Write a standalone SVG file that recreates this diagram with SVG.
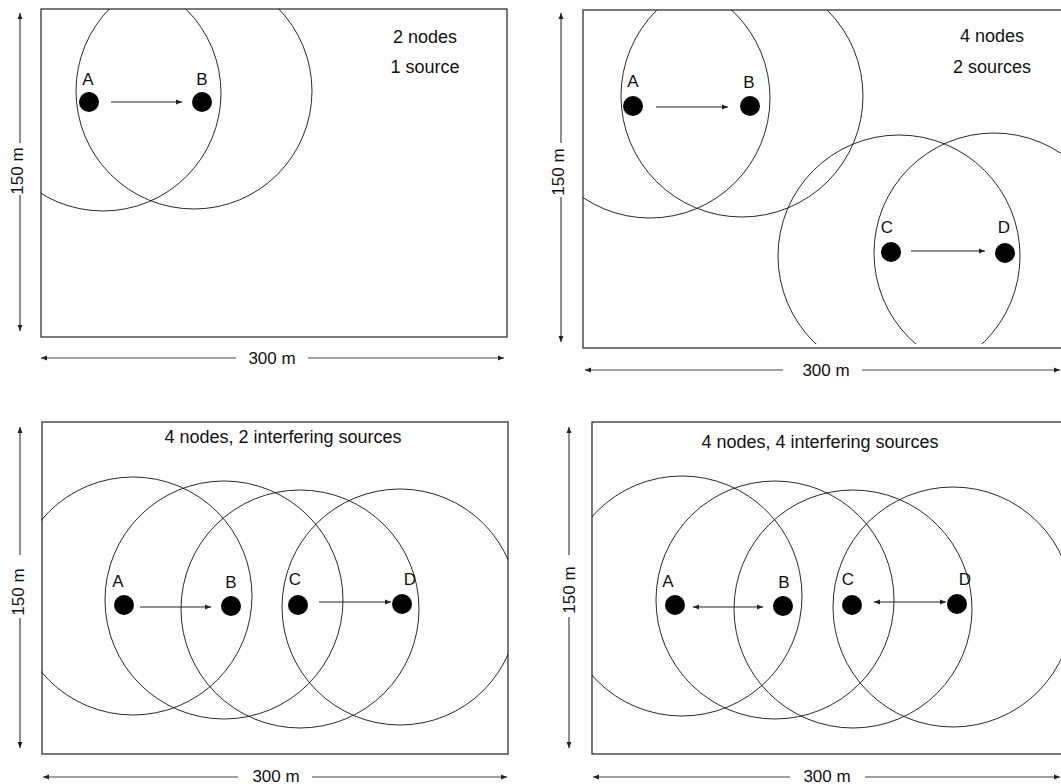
<svg xmlns="http://www.w3.org/2000/svg" width="1061" height="784" viewBox="0 0 1061 784">
<style>
text{font-family:"Liberation Sans",Arial,sans-serif;fill:#111}
.t{font-size:18px}
.lbl{font-size:17px;text-anchor:middle}
.dimt{font-size:17px;text-anchor:middle}
.box{fill:none;stroke:#333;stroke-width:1.3}
.rng{fill:none;stroke:#111;stroke-width:0.9}
.dim{fill:none;stroke:#444;stroke-width:1.2;marker-end:url(#dh)}
.con{fill:none;stroke:#222;stroke-width:1;marker-end:url(#ah)}
.bi{marker-start:url(#ahs)}
.node{fill:#000}
</style>
<defs>
<marker id="dh" markerUnits="userSpaceOnUse" markerWidth="7" markerHeight="6" refX="6" refY="3" orient="auto"><path d="M0,0.5 L6,3 L0,5.5 z" fill="#222"/></marker>
<marker id="ah" markerUnits="userSpaceOnUse" markerWidth="7" markerHeight="6" refX="6" refY="3" orient="auto"><path d="M0,0.5 L6,3 L0,5.5 z" fill="#222"/></marker>
<marker id="ahs" markerUnits="userSpaceOnUse" markerWidth="7" markerHeight="6" refX="0" refY="3" orient="auto"><path d="M6,0.5 L0,3 L6,5.5 z" fill="#222"/></marker>
<clipPath id="c1"><rect x="41" y="9" width="466" height="328"/></clipPath>
<clipPath id="c2"><rect x="583" y="10" width="480" height="334"/></clipPath>
<clipPath id="c3"><rect x="41" y="422" width="467" height="332"/></clipPath>
<clipPath id="c4"><rect x="592" y="422" width="480" height="332"/></clipPath>
</defs>

<!-- Panel 1 -->
<g id="panel1">
<rect class="box" x="41" y="9" width="466" height="328"/>
<g clip-path="url(#c1)">
<circle class="rng" cx="103" cy="93" r="118"/>
<circle class="rng" cx="194" cy="91" r="118"/>
</g>
<text class="t" x="425" y="43" text-anchor="middle">2 nodes</text>
<text class="t" x="425" y="73" text-anchor="middle">1 source</text>
<g id="p1-dims">
<path class="dim" d="M20,143 V13"/><path class="dim" d="M20,195 V331"/>
<text class="dimt" transform="translate(23,171) rotate(-90)">150 m</text>
<path class="dim" d="M236,358 H41"/><path class="dim" d="M308,358 H504"/>
<text class="dimt" x="272" y="364">300 m</text>
</g>
<g id="p1-A"><circle class="node" cx="89" cy="102" r="10"/><text class="lbl" x="88" y="85">A</text></g>
<g id="p1-B"><circle class="node" cx="202" cy="102" r="10"/><text class="lbl" x="202" y="85">B</text></g>
</g>

<!-- Panel 2 -->
<g id="panel2">
<rect class="box" x="583" y="10" width="482" height="338"/>
<g clip-path="url(#c2)">
<circle class="rng" cx="650" cy="98" r="120"/>
<circle class="rng" cx="742" cy="96" r="121"/>
<circle class="rng" cx="899" cy="256" r="121"/>
<circle class="rng" cx="994" cy="253" r="120"/>
</g>
<text class="t" x="992" y="42" text-anchor="middle">4 nodes</text>
<text class="t" x="992" y="73" text-anchor="middle">2 sources</text>
<g id="p2-dims">
<path class="dim" d="M561,143 V13"/><path class="dim" d="M561,197 V342"/>
<text class="dimt" transform="translate(564,172) rotate(-90)">150 m</text>
<path class="dim" d="M783,370 H585"/><path class="dim" d="M862,370 H1060"/>
<text class="dimt" x="826" y="376">300 m</text>
</g>
<g id="p2-A"><circle class="node" cx="633" cy="106" r="10"/><text class="lbl" x="633" y="87">A</text></g>
<g id="p2-B"><circle class="node" cx="750" cy="106" r="10"/><text class="lbl" x="749" y="88">B</text></g>
<g id="p2-C"><circle class="node" cx="891" cy="252" r="10"/><text class="lbl" x="887" y="233">C</text></g>
<g id="p2-D"><circle class="node" cx="1005" cy="253" r="10"/><text class="lbl" x="1004" y="233">D</text></g>
</g>

<!-- Panel 3 -->
<g id="panel3">
<rect class="box" x="42" y="422" width="466" height="332"/>
<g clip-path="url(#c3)">
<circle class="rng" cx="133" cy="596" r="119"/>
<circle class="rng" cx="224" cy="600" r="119"/>
<circle class="rng" cx="300" cy="609" r="119"/>
<circle class="rng" cx="400" cy="607" r="118"/>
</g>
<text class="t" x="283" y="443" text-anchor="middle">4 nodes, 2 interfering sources</text>
<g id="p3-dims">
<path class="dim" d="M20,555 V427"/><path class="dim" d="M20,618 V748"/>
<text class="dimt" transform="translate(24,592) rotate(-90)">150 m</text>
<path class="dim" d="M238,777 H43"/><path class="dim" d="M312,777 H507"/>
<text class="dimt" x="276" y="782">300 m</text>
</g>
<g id="p3-A"><circle class="node" cx="124" cy="605" r="10"/><text class="lbl" x="118" y="587">A</text></g>
<g id="p3-B"><circle class="node" cx="231" cy="606" r="10"/><text class="lbl" x="231" y="588">B</text></g>
<g id="p3-C"><circle class="node" cx="298" cy="605" r="10"/><text class="lbl" x="295" y="585">C</text></g>
<g id="p3-D"><circle class="node" cx="402" cy="604" r="10"/><text class="lbl" x="410" y="585">D</text></g>
</g>

<!-- Panel 4 -->
<g id="panel4">
<rect class="box" x="592" y="422" width="480" height="332"/>
<g clip-path="url(#c4)">
<circle class="rng" cx="682" cy="596" r="120"/>
<circle class="rng" cx="775" cy="600" r="119"/>
<circle class="rng" cx="853" cy="609" r="119"/>
<circle class="rng" cx="953" cy="607" r="120"/>
</g>
<text class="t" x="820" y="448" text-anchor="middle">4 nodes, 4 interfering sources</text>
<g id="p4-dims">
<path class="dim" d="M569,555 V427"/><path class="dim" d="M569,617 V748"/>
<text class="dimt" transform="translate(575,590) rotate(-90)">150 m</text>
<path class="dim" d="M790,777 H593"/><path class="dim" d="M865,777 H1060"/>
<text class="dimt" x="827" y="782">300 m</text>
</g>
<g id="p4-A"><circle class="node" cx="675" cy="605" r="10"/><text class="lbl" x="668" y="587">A</text></g>
<g id="p4-B"><circle class="node" cx="783" cy="606" r="10"/><text class="lbl" x="784" y="588">B</text></g>
<g id="p4-C"><circle class="node" cx="852" cy="605" r="10"/><text class="lbl" x="848" y="585">C</text></g>
<g id="p4-D"><circle class="node" cx="957" cy="604" r="10"/><text class="lbl" x="965" y="585">D</text></g>
</g>

<!-- Connectors -->
<g id="connectors">
<path class="con" d="M111,102 H182"/>
<path class="con" d="M656,107 H728"/>
<path class="con" d="M911,251 H985"/>
<path class="con" d="M140,607 H211"/>
<path class="con" d="M319,602 H391"/>
<path class="con bi" d="M693,607 H763"/>
<path class="con bi" d="M874,602 H946"/>
</g>
</svg>
